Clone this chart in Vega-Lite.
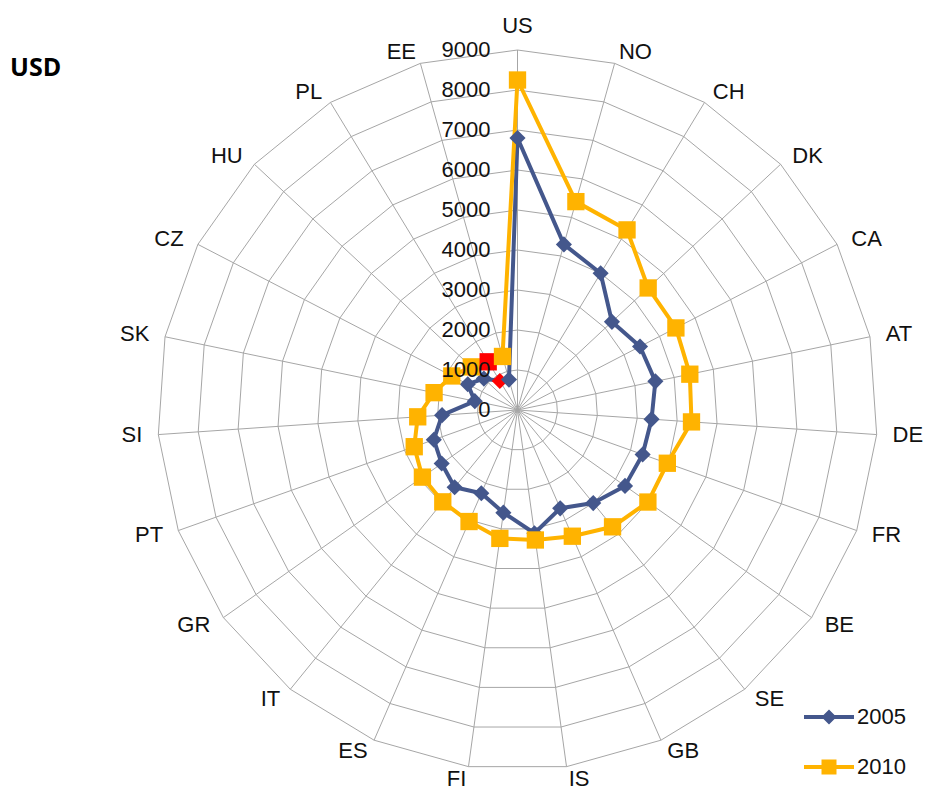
{
  "$schema": "https://vega.github.io/schema/vega-lite/v6.json",
  "width": 928,
  "height": 791,
  "autosize": {"type": "none"},
  "padding": 0,
  "background": "white",
  "title": {"text": "USD", "anchor": "start", "frame": "group", "orient": "top", "offset": -101, "baseline": "alphabetic", "dx": 10, "font": "Open Sans", "fontSize": 25, "fontWeight": "bold", "color": "#000000"},
  "config": {"view": {"stroke": null}},
  "datasets": {
    "series": [
      {"country": "US", "i": 0, "year": "2005", "value": 6800},
      {"country": "NO", "i": 1, "year": "2005", "value": 4300},
      {"country": "CH", "i": 2, "year": "2005", "value": 4000},
      {"country": "DK", "i": 3, "year": "2005", "value": 3230},
      {"country": "CA", "i": 4, "year": "2005", "value": 3450},
      {"country": "AT", "i": 5, "year": "2005", "value": 3520},
      {"country": "DE", "i": 6, "year": "2005", "value": 3360},
      {"country": "FR", "i": 7, "year": "2005", "value": 3320},
      {"country": "BE", "i": 8, "year": "2005", "value": 3290},
      {"country": "SE", "i": 9, "year": "2005", "value": 3000},
      {"country": "GB", "i": 10, "year": "2005", "value": 2680},
      {"country": "IS", "i": 11, "year": "2005", "value": 3110},
      {"country": "FI", "i": 12, "year": "2005", "value": 2590},
      {"country": "ES", "i": 13, "year": "2005", "value": 2270},
      {"country": "IT", "i": 14, "year": "2005", "value": 2490},
      {"country": "GR", "i": 15, "year": "2005", "value": 2320},
      {"country": "PT", "i": 16, "year": "2005", "value": 2220},
      {"country": "SI", "i": 17, "year": "2005", "value": 1890},
      {"country": "SK", "i": 18, "year": "2005", "value": 1090},
      {"country": "CZ", "i": 19, "year": "2005", "value": 1400},
      {"country": "HU", "i": 20, "year": "2005", "value": 1150},
      {"country": "PL", "i": 21, "year": "2005", "value": 850},
      {"country": "EE", "i": 22, "year": "2005", "value": 790},
      {"country": "US", "i": 0, "year": "2010", "value": 8250},
      {"country": "NO", "i": 1, "year": "2010", "value": 5410},
      {"country": "CH", "i": 2, "year": "2010", "value": 5270},
      {"country": "DK", "i": 3, "year": "2010", "value": 4470},
      {"country": "CA", "i": 4, "year": "2010", "value": 4460},
      {"country": "AT", "i": 5, "year": "2010", "value": 4400},
      {"country": "DE", "i": 6, "year": "2010", "value": 4360},
      {"country": "FR", "i": 7, "year": "2010", "value": 3975},
      {"country": "BE", "i": 8, "year": "2010", "value": 3990},
      {"country": "SE", "i": 9, "year": "2010", "value": 3765},
      {"country": "GB", "i": 10, "year": "2010", "value": 3440},
      {"country": "IS", "i": 11, "year": "2010", "value": 3280},
      {"country": "FI", "i": 12, "year": "2010", "value": 3240},
      {"country": "ES", "i": 13, "year": "2010", "value": 3040},
      {"country": "IT", "i": 14, "year": "2010", "value": 2960},
      {"country": "GR", "i": 15, "year": "2010", "value": 2910},
      {"country": "PT", "i": 16, "year": "2010", "value": 2740},
      {"country": "SI", "i": 17, "year": "2010", "value": 2500},
      {"country": "SK", "i": 18, "year": "2010", "value": 2130},
      {"country": "CZ", "i": 19, "year": "2010", "value": 1850},
      {"country": "HU", "i": 20, "year": "2010", "value": 1580},
      {"country": "PL", "i": 21, "year": "2010", "value": 1410},
      {"country": "EE", "i": 22, "year": "2010", "value": 1390}
    ],
    "cats": [
      {"country": "US", "i": 0}, {"country": "NO", "i": 1}, {"country": "CH", "i": 2},
      {"country": "DK", "i": 3}, {"country": "CA", "i": 4}, {"country": "AT", "i": 5},
      {"country": "DE", "i": 6}, {"country": "FR", "i": 7}, {"country": "BE", "i": 8},
      {"country": "SE", "i": 9}, {"country": "GB", "i": 10}, {"country": "IS", "i": 11},
      {"country": "FI", "i": 12}, {"country": "ES", "i": 13}, {"country": "IT", "i": 14},
      {"country": "GR", "i": 15}, {"country": "PT", "i": 16}, {"country": "SI", "i": 17},
      {"country": "SK", "i": 18}, {"country": "CZ", "i": 19}, {"country": "HU", "i": 20},
      {"country": "PL", "i": 21}, {"country": "EE", "i": 22}
    ],
    "ticks": [
      {"level": 0}, {"level": 1000}, {"level": 2000}, {"level": 3000}, {"level": 4000},
      {"level": 5000}, {"level": 6000}, {"level": 7000}, {"level": 8000}, {"level": 9000}
    ]
  },
  "layer": [
    {
      "data": {"name": "cats"},
      "transform": [
        {"calculate": "[1000,2000,3000,4000,5000,6000,7000,8000,9000]", "as": "level"},
        {"flatten": ["level"]},
        {"calculate": "datum.level * sin(datum.i * 2 * PI / 23)", "as": "px"},
        {"calculate": "datum.level * cos(datum.i * 2 * PI / 23)", "as": "py"}
      ],
      "mark": {"type": "line", "interpolate": "linear-closed", "stroke": "#A6A6A6", "strokeWidth": 1},
      "encoding": {
        "x": {"field": "px", "type": "quantitative", "scale": {"domain": [-12937.5, 10262.5], "nice": false, "zero": false}, "axis": null},
        "y": {"field": "py", "type": "quantitative", "scale": {"domain": [-9525, 10250], "nice": false, "zero": false}, "axis": null},
        "detail": {"field": "level", "type": "nominal"},
        "order": {"field": "i", "type": "quantitative"}
      }
    },
    {
      "data": {"name": "cats"},
      "transform": [
        {"calculate": "9000 * sin(datum.i * 2 * PI / 23)", "as": "px"},
        {"calculate": "9000 * cos(datum.i * 2 * PI / 23)", "as": "py"}
      ],
      "mark": {"type": "rule", "stroke": "#A6A6A6", "strokeWidth": 1},
      "encoding": {
        "x": {"field": "px", "type": "quantitative", "scale": {"domain": [-12937.5, 10262.5], "nice": false, "zero": false}, "axis": null},
        "y": {"field": "py", "type": "quantitative", "scale": {"domain": [-9525, 10250], "nice": false, "zero": false}, "axis": null},
        "x2": {"datum": 0},
        "y2": {"datum": 0}
      }
    },
    {
      "data": {"name": "series"},
      "transform": [
        {"filter": "datum.year === '2005'"},
        {"calculate": "datum.value * sin(datum.i * 2 * PI / 23)", "as": "px"},
        {"calculate": "datum.value * cos(datum.i * 2 * PI / 23)", "as": "py"}
      ],
      "mark": {"type": "line", "interpolate": "linear-closed", "stroke": "#44578C", "strokeWidth": 4, "strokeJoin": "round"},
      "encoding": {
        "x": {"field": "px", "type": "quantitative", "scale": {"domain": [-12937.5, 10262.5], "nice": false, "zero": false}, "axis": null},
        "y": {"field": "py", "type": "quantitative", "scale": {"domain": [-9525, 10250], "nice": false, "zero": false}, "axis": null},
        "order": {"field": "i", "type": "quantitative"}
      }
    },
    {
      "data": {"name": "series"},
      "transform": [
        {"filter": "datum.year === '2010'"},
        {"calculate": "datum.value * sin(datum.i * 2 * PI / 23)", "as": "px"},
        {"calculate": "datum.value * cos(datum.i * 2 * PI / 23)", "as": "py"}
      ],
      "mark": {"type": "line", "interpolate": "linear-closed", "stroke": "#FFB300", "strokeWidth": 4, "strokeJoin": "round"},
      "encoding": {
        "x": {"field": "px", "type": "quantitative", "scale": {"domain": [-12937.5, 10262.5], "nice": false, "zero": false}, "axis": null},
        "y": {"field": "py", "type": "quantitative", "scale": {"domain": [-9525, 10250], "nice": false, "zero": false}, "axis": null},
        "order": {"field": "i", "type": "quantitative"}
      }
    },
    {
      "data": {"name": "series"},
      "transform": [
        {"filter": "datum.year === '2005'"},
        {"calculate": "datum.value * sin(datum.i * 2 * PI / 23)", "as": "px"},
        {"calculate": "datum.value * cos(datum.i * 2 * PI / 23)", "as": "py"}
      ],
      "mark": {"type": "point", "shape": "diamond", "filled": true, "size": 260, "opacity": 1, "strokeWidth": 0},
      "encoding": {
        "x": {"field": "px", "type": "quantitative", "scale": {"domain": [-12937.5, 10262.5], "nice": false, "zero": false}, "axis": null},
        "y": {"field": "py", "type": "quantitative", "scale": {"domain": [-9525, 10250], "nice": false, "zero": false}, "axis": null},
        "fill": {"condition": {"test": "datum.country === 'PL'", "value": "#FF0000"}, "value": "#44578C"}
      }
    },
    {
      "data": {"name": "series"},
      "transform": [
        {"filter": "datum.year === '2010'"},
        {"calculate": "datum.value * sin(datum.i * 2 * PI / 23)", "as": "px"},
        {"calculate": "datum.value * cos(datum.i * 2 * PI / 23)", "as": "py"}
      ],
      "mark": {"type": "point", "shape": "square", "filled": true, "size": 300, "opacity": 1, "strokeWidth": 0},
      "encoding": {
        "x": {"field": "px", "type": "quantitative", "scale": {"domain": [-12937.5, 10262.5], "nice": false, "zero": false}, "axis": null},
        "y": {"field": "py", "type": "quantitative", "scale": {"domain": [-9525, 10250], "nice": false, "zero": false}, "axis": null},
        "fill": {"condition": {"test": "datum.country === 'PL'", "value": "#FF0000"}, "value": "#FFB300"}
      }
    },
    {
      "data": {"name": "ticks"},
      "mark": {"type": "text", "align": "right", "baseline": "middle", "dx": -27, "font": "Liberation Sans", "fontSize": 22, "color": "#111111"},
      "encoding": {
        "x": {"datum": 0, "type": "quantitative", "scale": {"domain": [-12937.5, 10262.5], "nice": false, "zero": false}, "axis": null},
        "y": {"field": "level", "type": "quantitative", "scale": {"domain": [-9525, 10250], "nice": false, "zero": false}, "axis": null},
        "text": {"field": "level", "type": "quantitative", "format": "d"}
      }
    },
    {
      "data": {"name": "cats"},
      "transform": [
        {"filter": "datum.i === 0"},
        {"calculate": "9400 * sin(datum.i * 2 * PI / 23)", "as": "px"},
        {"calculate": "9300 * cos(datum.i * 2 * PI / 23)", "as": "py"}
      ],
      "mark": {"type": "text", "align": "center", "baseline": "middle", "dy": -12, "font": "Liberation Sans", "fontSize": 22, "color": "#111111"},
      "encoding": {
        "x": {"field": "px", "type": "quantitative", "scale": {"domain": [-12937.5, 10262.5], "nice": false, "zero": false}, "axis": null},
        "y": {"field": "py", "type": "quantitative", "scale": {"domain": [-9525, 10250], "nice": false, "zero": false}, "axis": null},
        "text": {"field": "country", "type": "nominal"}
      }
    },
    {
      "data": {"name": "cats"},
      "transform": [
        {"filter": "datum.i >= 1 && datum.i <= 11"},
        {"calculate": "9400 * sin(datum.i * 2 * PI / 23)", "as": "px"},
        {"calculate": "9300 * cos(datum.i * 2 * PI / 23)", "as": "py"}
      ],
      "mark": {"type": "text", "align": "left", "baseline": "middle", "font": "Liberation Sans", "fontSize": 22, "color": "#111111"},
      "encoding": {
        "x": {"field": "px", "type": "quantitative", "scale": {"domain": [-12937.5, 10262.5], "nice": false, "zero": false}, "axis": null},
        "y": {"field": "py", "type": "quantitative", "scale": {"domain": [-9525, 10250], "nice": false, "zero": false}, "axis": null},
        "text": {"field": "country", "type": "nominal"}
      }
    },
    {
      "data": {"name": "cats"},
      "transform": [
        {"filter": "datum.i >= 12"},
        {"calculate": "9400 * sin(datum.i * 2 * PI / 23)", "as": "px"},
        {"calculate": "9300 * cos(datum.i * 2 * PI / 23)", "as": "py"}
      ],
      "mark": {"type": "text", "align": "right", "baseline": "middle", "font": "Liberation Sans", "fontSize": 22, "color": "#111111"},
      "encoding": {
        "x": {"field": "px", "type": "quantitative", "scale": {"domain": [-12937.5, 10262.5], "nice": false, "zero": false}, "axis": null},
        "y": {"field": "py", "type": "quantitative", "scale": {"domain": [-9525, 10250], "nice": false, "zero": false}, "axis": null},
        "text": {"field": "country", "type": "nominal"}
      }
    },
    {
      "data": {"name": "series"},
      "mark": {"type": "point", "filled": true, "opacity": 0, "strokeWidth": 0},
      "encoding": {
        "shape": {
          "field": "year", "type": "nominal",
          "scale": {"domain": ["2005", "2010"], "range": ["M-1,-0.08H1V0.08H-1Z M0,-0.3L0.3,0L0,0.3L-0.3,0Z", "M-1,-0.08H1V0.08H-1Z M-0.3,-0.3H0.3V0.3H-0.3Z"]},
          "legend": {"title": null, "orient": "none", "legendX": 804, "legendY": 692, "symbolSize": 2500, "symbolOpacity": 1, "symbolStrokeWidth": 0, "labelFont": "Liberation Sans", "labelFontSize": 22, "labelColor": "#111111", "labelOffset": 3, "rowPadding": 14, "padding": 0}
        },
        "color": {
          "field": "year", "type": "nominal",
          "scale": {"domain": ["2005", "2010"], "range": ["#44578C", "#FFB300"]},
          "legend": {"title": null, "orient": "none", "legendX": 804, "legendY": 692, "symbolSize": 2500, "symbolOpacity": 1, "symbolStrokeWidth": 0, "labelFont": "Liberation Sans", "labelFontSize": 22, "labelColor": "#111111", "labelOffset": 3, "rowPadding": 14, "padding": 0}
        }
      }
    }
  ]
}
